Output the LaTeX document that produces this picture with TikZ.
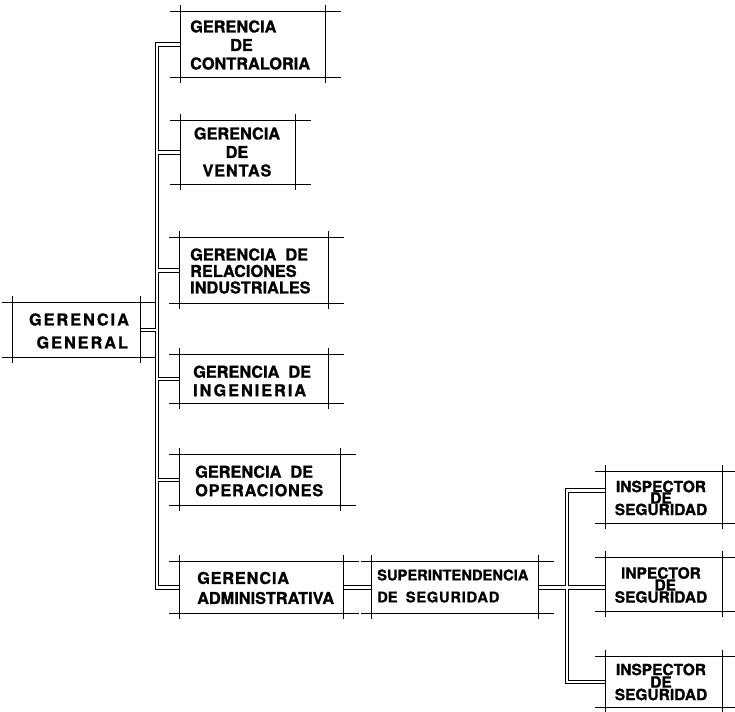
\documentclass[tikz,border=0pt]{standalone}
\usepackage{fontspec}
\setmainfont{TeX Gyre Heros}[BoldFeatures={FakeBold=1}]
\newfontfamily\spacedfont{TeX Gyre Heros}[LetterSpace=12,BoldFeatures={FakeBold=1}]
\newfontfamily\lightspaced{TeX Gyre Heros}[LetterSpace=5,BoldFeatures={FakeBold=1}]
\newcommand\draftnode[5]{%
  \node[boxarea, minimum width={(#4-#2)*1pt}, minimum height={(#5-#3)*1pt}] (#1) at ({(#2+#4)/2},{(#3+#5)/2}) {};}
\newcommand\draftlines[1]{%
  \draw[boxline] ([xshift=-11pt]#1.north west) -- ([xshift=16pt]#1.north east);
  \draw[boxline] ([xshift=-11pt]#1.south west) -- ([xshift=16pt]#1.south east);
  \draw[boxline] ([yshift=7pt]#1.north west) -- ([yshift=-6pt]#1.south west);
  \draw[boxline] ([yshift=7pt]#1.north east) -- ([yshift=-6pt]#1.south east);}
\tikzset{
  boxarea/.style={inner sep=0pt, draw=none},
  boxline/.style={line width=1.1pt, black},
  dblouter/.style={line width=4.6pt, black},
  dblinner/.style={line width=2.6pt, white},
  lbl/.style={inner sep=0pt, font=\fontsize{16.3}{18.5}\selectfont\bfseries},
}
\begin{document}
\begin{tikzpicture}[x=1pt,y=-1pt]
\useasboundingbox (0,0) rectangle (735,711);
% boxes (areas)
\draftnode{ctr}{181}{12}{325}{77}
\draftnode{ven}{181}{121}{295}{184}
\draftnode{rel}{180}{238}{328}{303}
\draftnode{gg}{13}{303}{140}{357}
\draftnode{ing}{180}{355}{328}{403}
\draftnode{ope}{180}{455}{340}{505}
\draftnode{adm}{180}{562}{343}{613}
\draftnode{sup}{372}{562}{538}{613}
\draftnode{in1}{606}{472}{722}{523}
\draftnode{in2}{606}{558}{722}{611}
\draftnode{in3}{606}{657}{722}{707}
\coordinate (bus) at (157,0);
\coordinate (bus2) at (567,0);
\coordinate (i1w) at ([yshift=7pt]in1.west);
% connectors (double lines)
\foreach \s in {dblouter,dblinner}{
  \draw[style=\s] (ctr.west) -- (ctr.west -| bus) -- (adm.west -| bus) -- (adm.west);
  \draw[style=\s] (ven.west) -- (ven.west -| bus);
  \draw[style=\s] (rel.west) -- (rel.west -| bus);
  \draw[style=\s] (gg.east) -- (gg.east -| bus);
  \draw[style=\s] (ing.west) -- (ing.west -| bus);
  \draw[style=\s] (ope.west) -- (ope.west -| bus);
  \draw[style=\s] (adm.east) -- (sup.west);
  \draw[style=\s] (sup.east) -- (sup.east -| in2.west);
  \draw[style=\s] (i1w) -- (i1w -| bus2) -- (in3.west -| bus2) -- (in3.west);
}
% box outlines
\foreach \n in {ctr,ven,rel,gg,ing,ope,adm,sup,in1,in2,in3}{\draftlines{\n}}
% texts
\node[lbl, align=left, anchor=west] (tctr) at (190,45) {GERENCIA\\\hspace*{40pt}DE\\CONTRALORIA};
\node[lbl, align=center] (tven) at (237,152) {GERENCIA\\DE\\{\lightspaced VENTAS}};
\node[lbl, align=left, anchor=west, font=\fontsize{16.3}{16.5}\selectfont\bfseries] (trel) at (190,271) {GERENCIA\ \ DE\\RELACIONES\\INDUSTRIALES};
\node[lbl, align=center, font=\fontsize{16.3}{23}\selectfont\bfseries\spacedfont] (tgg) at (79,331) {GERENCIA\\\ GENERAL};
\node[lbl, align=left, anchor=west] (ting) at (193,381) {GERENCIA\ \ DE\\{\spacedfont INGENIERIA}};
\node[lbl, align=left, anchor=west] (tope) at (195,481) {GERENCIA\ \ DE\\{\lightspaced OPERACIONES}};
\node[lbl, align=left, anchor=west, font=\fontsize{16.3}{20}\selectfont\bfseries] (tadm) at (197,588) {{\lightspaced GERENCIA}\\ADMINISTRATIVA};
\node[lbl, align=left, anchor=west, font=\fontsize{14.7}{22}\selectfont\bfseries] (tsup) at (377,586) {SUPERINTENDENCIA\\DE\ \ {\lightspaced SEGURIDAD}};
\node[lbl, align=center, font=\fontsize{15.5}{11.5}\selectfont\bfseries] (tin1) at (661,498) {INSPECTOR\\DE\\SEGURIDAD};
\node[lbl, align=center, font=\fontsize{15.5}{12}\selectfont\bfseries] (tin2) at (661,585) {INPECTOR\\\ \ DE\\SEGURIDAD};
\node[lbl, align=center, font=\fontsize{15.5}{12.5}\selectfont\bfseries] (tin3) at (661,682) {INSPECTOR\\DE\\SEGURIDAD};
\end{tikzpicture}
\end{document}
